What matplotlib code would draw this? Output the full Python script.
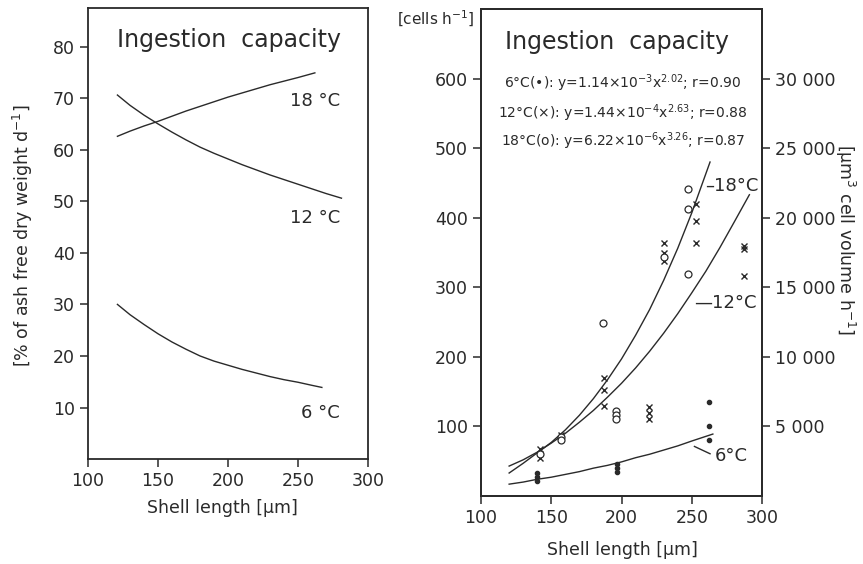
import matplotlib
matplotlib.use('Agg')
import matplotlib.pyplot as plt

ink = '#2a2a2a'
plt.rcParams['font.family'] = ['DejaVu Sans']
plt.rcParams['text.color'] = ink
plt.rcParams['axes.edgecolor'] = ink
plt.rcParams['xtick.color'] = ink
plt.rcParams['ytick.color'] = ink
plt.rcParams['mathtext.default'] = 'regular'

# left panel: ingestion as % of ash free dry weight per day
lx_18 = [121, 130, 140, 150, 160, 170, 180, 190, 200, 210, 220, 230, 240, 250, 262]
ly_18 = [62.6, 63.6, 64.6, 65.5, 66.5, 67.5, 68.4, 69.3, 70.2, 71.0, 71.8, 72.6, 73.3, 74.0, 74.9]
lx_12 = [121, 130, 140, 150, 160, 170, 180, 190, 200, 210, 220, 230, 240, 250, 260, 270, 281]
ly_12 = [70.6, 68.6, 66.7, 65.0, 63.4, 61.9, 60.5, 59.3, 58.2, 57.1, 56.1, 55.1, 54.2, 53.3, 52.4, 51.5, 50.6]
lx_6 = [121, 130, 140, 150, 160, 170, 180, 190, 200, 210, 220, 230, 240, 250, 260, 267]
ly_6 = [30.0, 28.0, 26.1, 24.3, 22.7, 21.3, 20.0, 19.0, 18.2, 17.4, 16.7, 16.0, 15.4, 14.9, 14.3, 13.9]

# right panel: fitted curves (cells per hour)
rx_6 = [120, 130, 140, 150, 160, 170, 180, 190, 200, 210, 220, 230, 240, 250, 265]
ry_6 = [17, 20, 24, 27, 31, 35, 40, 44, 49, 55, 60, 66, 72, 79, 89]
rx_12 = [120, 130, 140, 150, 160, 170, 180, 190, 200, 210, 220, 230, 240, 250, 260, 270, 280, 291]
ry_12 = [43, 52, 63, 76, 90, 106, 123, 142, 162, 184, 208, 234, 262, 292, 323, 357, 393, 433]
rx_18 = [120, 130, 140, 150, 160, 170, 180, 190, 200, 210, 220, 230, 240, 250, 263]
ry_18 = [33, 47, 62, 77, 95, 116, 140, 167, 197, 231, 268, 310, 356, 407, 480]

# right panel: measurements
dot_x = [140, 140, 140, 197, 197, 197, 262, 262, 262]
dot_y = [33, 28, 22, 46, 40, 34, 135, 100, 81]
cross_x = [141.7, 141.7, 157, 187.5, 187.5, 187.5, 219.5, 219.5, 219.5,
           230, 230, 230, 253, 253, 253, 287.5, 287.5, 287.5]
cross_y = [67, 54, 88, 170, 152, 129, 128, 119, 111,
           364, 349, 338, 420, 395, 363, 360, 355, 316]
circ_x = [141.7, 157, 157, 187, 196, 196, 196, 230, 247, 247, 247]
circ_y = [60, 85, 81, 249, 122, 116, 110, 344, 441, 413, 319]

left_yticks = [10, 20, 30, 40, 50, 60, 70, 80]
right_yticks = [100, 200, 300, 400, 500, 600]
vol_ticks = [5000, 10000, 15000, 20000, 25000, 30000]
vol_labels = ['5 000', '10 000', '15 000', '20 000', '25 000', '30 000']
xticks = [100, 150, 200, 250, 300]

equations = [
    '6°C(•): y=1.14×10$^{-3}$x$^{2.02}$; r=0.90',
    '12°C(×): y=1.44×10$^{-4}$x$^{2.63}$; r=0.88',
    '18°C(o): y=6.22×10$^{-6}$x$^{3.26}$; r=0.87',
]

fig = plt.figure(figsize=(8.63, 5.64), dpi=100)
ax1 = fig.add_axes([0.102, 0.186, 0.3245, 0.80])
ax2 = fig.add_axes([0.5574, 0.1206, 0.3256, 0.8635])
ax3 = ax2.twinx()

lw = 1.0
for ax in (ax1, ax2, ax3):
    for s in ax.spines.values():
        s.set_linewidth(1.3)
    ax.tick_params(direction='out', length=6, width=1.1, labelsize=12.5)

# left panel
ax1.plot(lx_18, ly_18, color=ink, lw=lw)
ax1.plot(lx_12, ly_12, color=ink, lw=lw)
ax1.plot(lx_6, ly_6, color=ink, lw=lw)
ax1.set_xlim(100, 300)
ax1.set_ylim(0, 87.5)
ax1.set_xticks(xticks)
ax1.set_yticks(left_yticks)
ax1.text(0.504, 0.929, 'Ingestion  capacity', transform=ax1.transAxes,
         ha='center', va='center', fontsize=17)
ax1.text(280, 69.5, '18 °C', ha='right', va='center', fontsize=13)
ax1.text(280, 46.8, '12 °C', ha='right', va='center', fontsize=13)
ax1.text(280, 8.9, '6 °C', ha='right', va='center', fontsize=13)

# right panel
ax2.plot(rx_18, ry_18, color=ink, lw=lw)
ax2.plot(rx_12, ry_12, color=ink, lw=lw)
ax2.plot(rx_6, ry_6, color=ink, lw=lw)
ax2.plot(dot_x, dot_y, ls='none', marker='o', ms=3, color=ink)
ax2.plot(cross_x, cross_y, ls='none', marker='x', ms=5, mew=1.0, color=ink)
ax2.plot(circ_x, circ_y, ls='none', marker='o', ms=5, mfc='white', mew=0.9, color=ink)
ax2.set_xlim(100, 300)
ax2.set_ylim(0, 700)
ax2.set_xticks(xticks)
ax2.set_yticks(right_yticks)
ax3.set_ylim(0, 35000)
ax3.set_yticks(vol_ticks)
ax3.set_yticklabels(vol_labels)

ax2.text(0.484, 0.932, 'Ingestion  capacity', transform=ax2.transAxes,
         ha='center', va='center', fontsize=17)
for txt, yy in zip(equations, [0.848, 0.786, 0.729]):
    ax2.text(0.505, yy, txt, transform=ax2.transAxes, ha='center', va='center',
             fontsize=10)
ax2.text(259.3, 445, '–18°C', ha='left', va='center', fontsize=13)
ax2.text(251.4, 277, '—12°C', ha='left', va='center', fontsize=13)
ax2.plot([251.9, 263], [71.2, 60.7], color=ink, lw=lw)
ax2.text(266.4, 57, '6°C', ha='left', va='center', fontsize=13)

# axis labels
fig.text(0.027, 0.582, '[% of ash free dry weight d$^{-1}$]', rotation=90,
         ha='center', va='center', fontsize=12.5)
fig.text(0.258, 0.099, 'Shell length [μm]', ha='center', va='center', fontsize=12.5)
fig.text(0.721, 0.025, 'Shell length [μm]', ha='center', va='center', fontsize=12.5)
fig.text(0.505, 0.967, '[cells h$^{-1}$]', ha='center', va='center', fontsize=11)
fig.text(0.979, 0.576, '[μm$^{3}$ cell volume h$^{-1}$]', rotation=270,
         ha='center', va='center', fontsize=12.5)

fig.savefig('out.png', dpi=100)
